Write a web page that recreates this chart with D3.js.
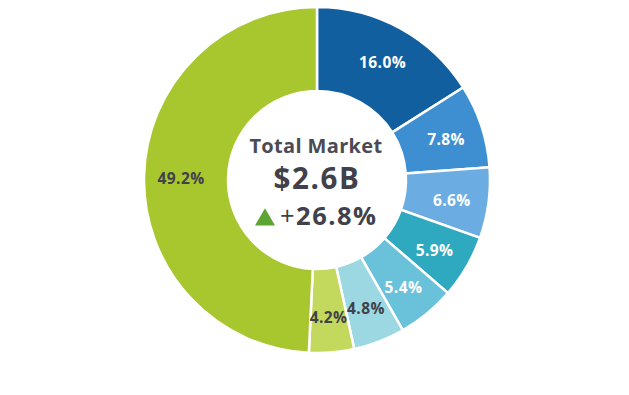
<!DOCTYPE html>
<html>
<head>
<script src="https://cdn.jsdelivr.net/npm/d3@7"></script>
<style>
    body { margin: 0; background: #fff; }
    svg { font-family: "Open Sans", sans-serif; }
</style>
</head>
<body>
<div id="chart"></div>
<script>
    // segment data (clockwise from 12 o'clock)
    var shares = [16.0, 7.8, 6.6, 5.9, 5.4, 4.8, 4.2, 49.2];
    var colors = ["#125fa0", "#3e8fd2", "#6badE2", "#2fa9c0", "#69c1da", "#9bd8e2", "#c3d95e", "#a8c72f"];
    var labelColors = ["#fff", "#fff", "#fff", "#fff", "#fff", "#40414a", "#40414a", "#40414a"];
    var centerTitle = "Total Market";
    var centerValue = "$2.6B";
    var centerChange = "26.8%";

    var width = 629, height = 395;
    var cx = 317, cy = 180;
    var outerR = 173, innerR = 89;

    var svg = d3.select("#chart").append("svg")
        .attr("width", width)
        .attr("height", height);

    var g = svg.append("g").attr("transform", "translate(" + cx + "," + cy + ")");

    var pie = d3.pie().sort(null).value(function (d) { return d; });
    var arc = d3.arc().innerRadius(innerR).outerRadius(outerR);
    var labelArc = d3.arc().innerRadius(136).outerRadius(136);

    var arcs = pie(shares);

    g.selectAll("path.slice")
        .data(arcs)
        .enter().append("path")
        .attr("class", "slice")
        .attr("d", arc)
        .attr("fill", function (d, i) { return colors[i]; })
        .attr("stroke", "#fff")
        .attr("stroke-width", 2.5);

    // slice labels, nudged a little downward like the original
    g.selectAll("text.lbl")
        .data(arcs)
        .enter().append("text")
        .attr("class", "lbl")
        .attr("transform", function (d) {
            var c = labelArc.centroid(d);
            return "translate(" + c[0] + "," + (c[1] + 2) + ")";
        })
        .attr("text-anchor", "middle")
        .attr("dy", "0.36em")
        .attr("font-size", 15.5)
        .attr("font-weight", 700)
        .attr("letter-spacing", 0.4)
        .attr("fill", function (d, i) { return labelColors[i]; })
        .text(function (d) { return d.data.toFixed(1) + "%"; });

    // centre text
    g.append("text")
        .attr("text-anchor", "middle")
        .attr("x", -1)
        .attr("y", -27)
        .attr("font-size", 20)
        .attr("font-weight", 750)
        .attr("letter-spacing", 0.35)
        .attr("fill", "#4a4b53")
        .text(centerTitle);

    g.append("text")
        .attr("text-anchor", "middle")
        .attr("x", 0)
        .attr("y", 8.5)
        .attr("font-size", 29.5)
        .attr("font-weight", 750)
        .attr("letter-spacing", 1.6)
        .attr("fill", "#40414a")
        .text(centerValue);

    // up triangle
    g.append("path")
        .attr("d", d3.symbol().type(d3.symbolTriangle).size(173))
        .attr("transform", "translate(-52,39.8)")
        .attr("fill", "#5ca532");

    var ch = g.append("text")
        .attr("x", -37)
        .attr("y", 45)
        .attr("font-size", 25.5)
        .attr("letter-spacing", 1.5)
        .attr("fill", "#40414a");
    ch.append("tspan").attr("font-weight", 400).text("+");
    ch.append("tspan").attr("font-weight", 750).text(centerChange);
</script>
</body>
</html>
